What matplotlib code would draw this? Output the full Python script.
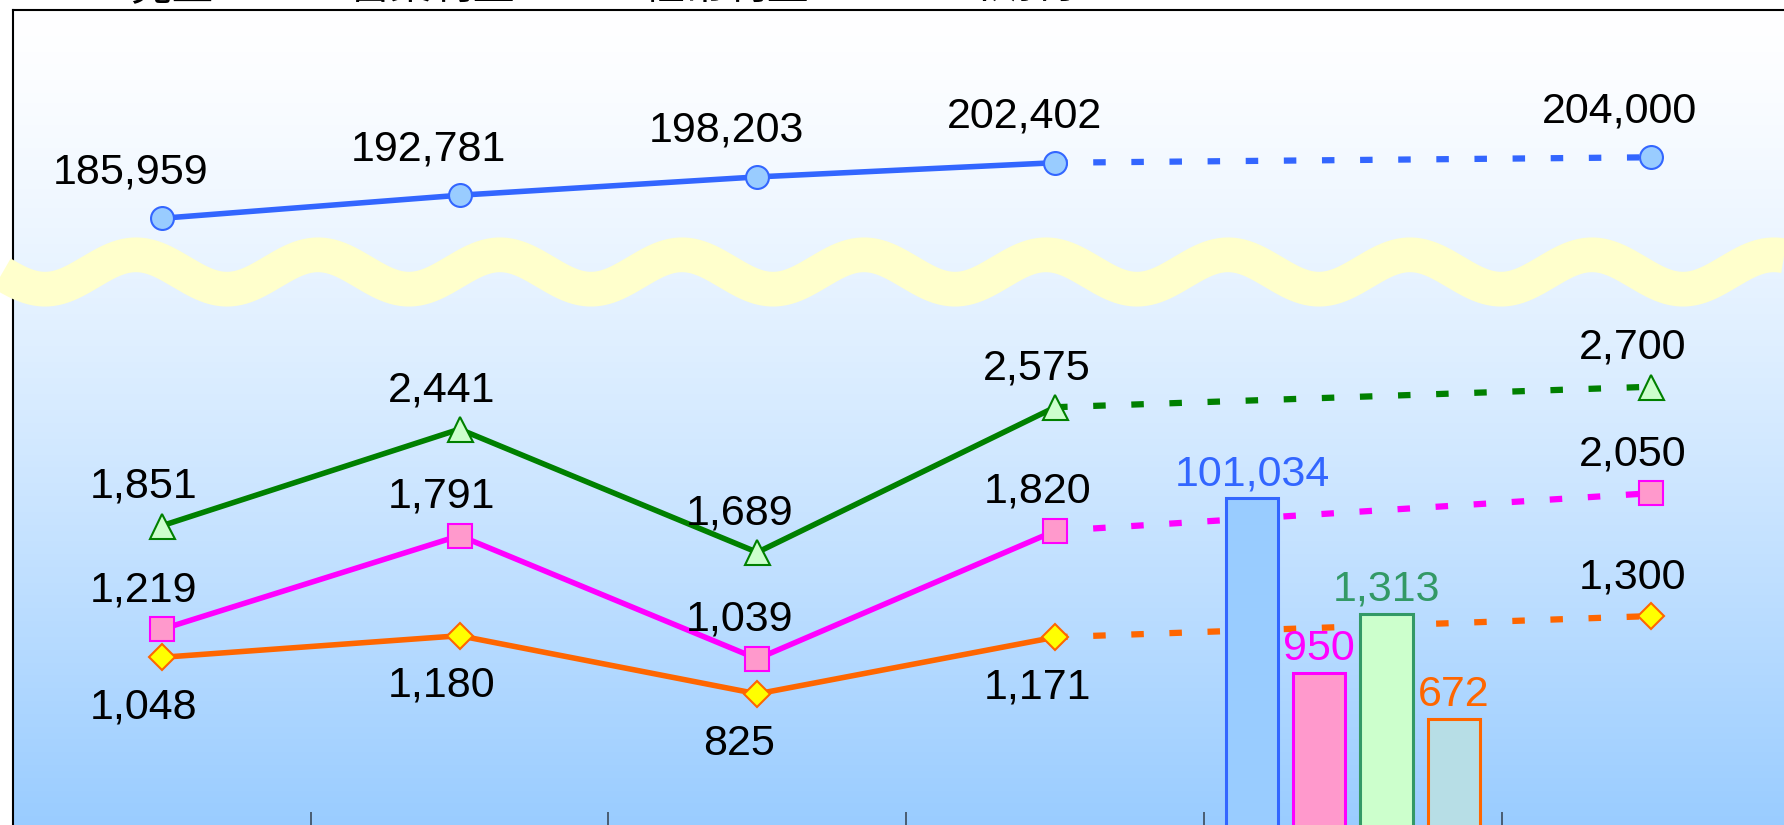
import numpy as np
import matplotlib
matplotlib.use("Agg")
import matplotlib.pyplot as plt
from matplotlib import font_manager
from matplotlib.lines import Line2D

# 6 slots on the x axis: 4 past years, the half-year bars, the full-year forecast
legend_names = ["売上", "営業利益", "経常利益", "当期利益"]
sales = [185959, 192781, 198203, 202402, np.nan, 204000]
operating = [1219, 1791, 1039, 1820, np.nan, 2050]
ordinary = [1851, 2441, 1689, 2575, np.nan, 2700]
net_income = [1048, 1180, 825, 1171, np.nan, 1300]
half_year = [101034, 950, 1313, 672]
sales_bar_scale = 50   # the sales bar is drawn at 1/50 on the profit scale

# fonts: narrow digits like the original if we have them, CJK for the legend
names = {f.name for f in font_manager.fontManager.ttflist}
num_font = "Liberation Sans Narrow" if "Liberation Sans Narrow" in names else "Liberation Sans"
num_size = 33 if num_font == "Liberation Sans Narrow" else 31
jp_font = ["Noto Sans CJK JP", "DejaVu Sans"]

W, H = 1784, 825
PT = 0.72  # points per pixel at dpi 100

fig = plt.figure(figsize=(W / 100, H / 100), dpi=100)
ax = fig.add_axes([12.8 / W, -4 / H, 6 * 297.8 / W, 819 / H])

# background gradient white -> light blue
frac = np.linspace(0, 1, 256)[:, None] ** 1.3
c_top = np.array([1.0, 1.0, 1.0])
c_bot = np.array([0x99, 0xCC, 0xFF]) / 255
grad = c_top + (c_bot - c_top) * frac[..., None]
ax.imshow(grad, extent=[-0.5, 5.5, 0, 5000], origin="upper", aspect="auto", zorder=0)
ax.set_xlim(-0.5, 5.5)
ax.set_ylim(0, 5000)

for s in ax.spines.values():
    s.set_linewidth(1.5)
    s.set_color("black")
ax.set_xticks(np.arange(0.5, 5.5, 1))
ax.tick_params(axis="x", direction="in", length=12, width=1.2, color="#3c4a5a",
               labelbottom=False)
ax.set_yticks([])

x = np.arange(6)
solid_lw = 4.0
dot_lw = 4.5
dash = (2.0, 4.1)


def draw_series(axis, vals, color, marker, ms, mfc, dx, dy_list):
    vals = np.array(vals, dtype=float)
    # forecast part dotted, actuals solid
    axis.plot(x[[3, 5]], vals[[3, 5]], color=color, lw=dot_lw, dashes=dash,
              dash_capstyle="butt", zorder=2)
    axis.plot(x[:4], vals[:4], color=color, lw=solid_lw, zorder=4)
    ok = ~np.isnan(vals)
    axis.plot(x[ok], vals[ok], ls="none", marker=marker, ms=ms, mfc=mfc, mec=color,
              mew=1.5, zorder=5)
    for i, v in enumerate(vals):
        if np.isnan(v):
            continue
        axis.annotate(f"{int(v):,}", (i, v), xytext=(dx, dy_list[i]),
                      textcoords="offset points", ha="center", va="baseline",
                      fontsize=num_size, family=num_font, color="black", zorder=6)


above = 28 * PT
below = -61 * PT

# profit lines on the lower scale
draw_series(ax, ordinary, "#008000", "^", 18, "#CCFFCC", -18 * PT, [above] * 6)
draw_series(ax, operating, "#FF00FF", "s", 17.5, "#FF99CC", -18 * PT, [above] * 6)
draw_series(ax, net_income, "#FF6600", "D", 13, "#FFFF00", -18 * PT,
            [below, below, below, below, below, above])

# half-year bars
bar_fill = ["#99CCFF", "#FF99CC", "#CCFFCC", "#B7DEE6"]
bar_edge = ["#3366FF", "#FF00FF", "#339966", "#FF6600"]
bar_x = 4 + (np.arange(4) - 1.5) * 0.226
bar_h = [half_year[0] / sales_bar_scale] + half_year[1:]
ax.bar(bar_x, bar_h, width=0.175, color=bar_fill, edgecolor=bar_edge, linewidth=2.2,
       zorder=3)
for bx, bh, v, c in zip(bar_x, bar_h, half_year, bar_edge):
    ax.annotate(f"{v:,}", (bx, bh), xytext=(0, 13 * PT), textcoords="offset points",
                ha="center", va="baseline", fontsize=num_size, family=num_font,
                color=c, zorder=6)

# sales on its own (upper) scale
ax2 = ax.twinx()
ax2.set_ylim(5332, 247568)
ax2.axis("off")
draw_series(ax2, sales, "#3366FF", "o", 16.5, "#99CCFF", -31 * PT, [35 * PT] * 6)

# legend text, mostly cut off by the top edge
for name, lx in zip(legend_names, [130, 348, 643, 949]):
    fig.text(lx / W, 1 + 1 / H, name, fontsize=30, family=jp_font, va="baseline",
             ha="left", color="black")

# axis break wave
wx = np.linspace(2, W, 900)
wy = 272 - 17.2 * np.cos(2 * np.pi * (wx - 136) / 182)
fig.add_artist(Line2D(wx / W, 1 - wy / H, transform=fig.transFigure, color="#FFFFCC",
                      lw=25, solid_capstyle="butt", zorder=10))

fig.savefig("out.png", dpi=100)
